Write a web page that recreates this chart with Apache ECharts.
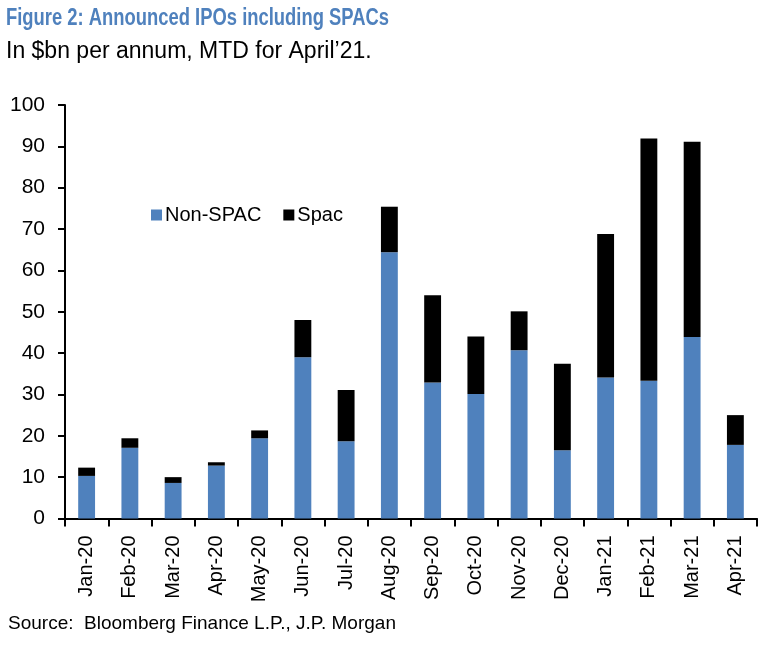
<!DOCTYPE html>
<html><head><meta charset="utf-8">
<script src="https://cdn.jsdelivr.net/npm/echarts@6/dist/echarts.min.js"></script>
<style>html,body{margin:0;padding:0;background:#fff}#c{width:776px;height:645px}</style>
</head><body><div id="c"></div>
<script>
const categories = ['Jan-20','Feb-20','Mar-20','Apr-20','May-20','Jun-20','Jul-20','Aug-20','Sep-20','Oct-20','Nov-20','Dec-20','Jan-21','Feb-21','Mar-21','Apr-21'];
const nonSpac = [10.3, 17.1, 8.6, 12.8, 19.4, 39.0, 18.7, 64.4, 32.9, 30.1, 40.7, 16.5, 34.1, 33.3, 43.9, 17.8];
const spac = [2.0, 2.3, 1.4, 0.8, 1.9, 9.0, 12.4, 11.0, 21.1, 13.9, 9.4, 20.9, 34.7, 58.6, 47.2, 7.2];
const yTicks = [0, 10, 20, 30, 40, 50, 60, 70, 80, 90, 100];

const FONT = '"Liberation Sans", Arial, sans-serif';
const chart = echarts.init(document.getElementById('c'));
chart.setOption({
  animation: false,
  textStyle: { fontFamily: FONT },
  graphic: [
    { type: 'text', x: 6, y: 7, scaleX: 0.8,
      style: { text: 'Figure 2: Announced IPOs including SPACs', fill: '#4f81bd',
        font: 'bold 23px "Liberation Sans", Arial, sans-serif', verticalAlign: 'top', align: 'left' } },
    { type: 'text', x: 6, y: 40,
      style: { text: 'In $bn per annum, MTD for April\u201921.', fill: '#000',
        font: '23px "Liberation Sans", Arial, sans-serif', verticalAlign: 'top', align: 'left' } },
    { type: 'text', x: 8, y: 614,
      style: { text: 'Source:  Bloomberg Finance L.P., J.P. Morgan', fill: '#000',
        font: '19px "Liberation Sans", Arial, sans-serif', verticalAlign: 'top', align: 'left' } }
  ],
  legend: {
    left: 146, top: 200, itemWidth: 11, itemHeight: 11, itemGap: 22,
    icon: 'rect',
    textStyle: { fontFamily: FONT, fontSize: 20, color: '#000', padding: [0,0,0,-2] },
    data: ['Non-SPAC', 'Spac']
  },
  grid: { left: 65, right: 19, top: 105, bottom: 126.5, containLabel: false },
  xAxis: {
    type: 'category', data: categories,
    axisLine: { lineStyle: { color: '#000', width: 2 } },
    axisTick: { show: true, length: 8, lineStyle: { color: '#000', width: 2 }, alignWithLabel: false },
    axisLabel: { rotate: 90, fontSize: 20, color: '#000', margin: 17, fontFamily: FONT, interval: 0 }
  },
  yAxis: {
    type: 'value', min: 0, max: 100, interval: 10,
    axisLine: { show: true, lineStyle: { color: '#000', width: 2 } },
    axisTick: { show: true, length: 7, lineStyle: { color: '#000', width: 2 } },
    splitLine: { show: false },
    axisLabel: { fontSize: 21, color: '#000', margin: 20, fontFamily: FONT,
      formatter: v => yTicks.includes(v) ? String(v) : '' }
  },
  series: [
    { name: 'Non-SPAC', type: 'bar', stack: 'a', data: nonSpac, barWidth: '39%',
      itemStyle: { color: '#4f81bd' } },
    { name: 'Spac', type: 'bar', stack: 'a', data: spac, barWidth: '39%',
      itemStyle: { color: '#000000' } }
  ]
});
</script></body></html>
